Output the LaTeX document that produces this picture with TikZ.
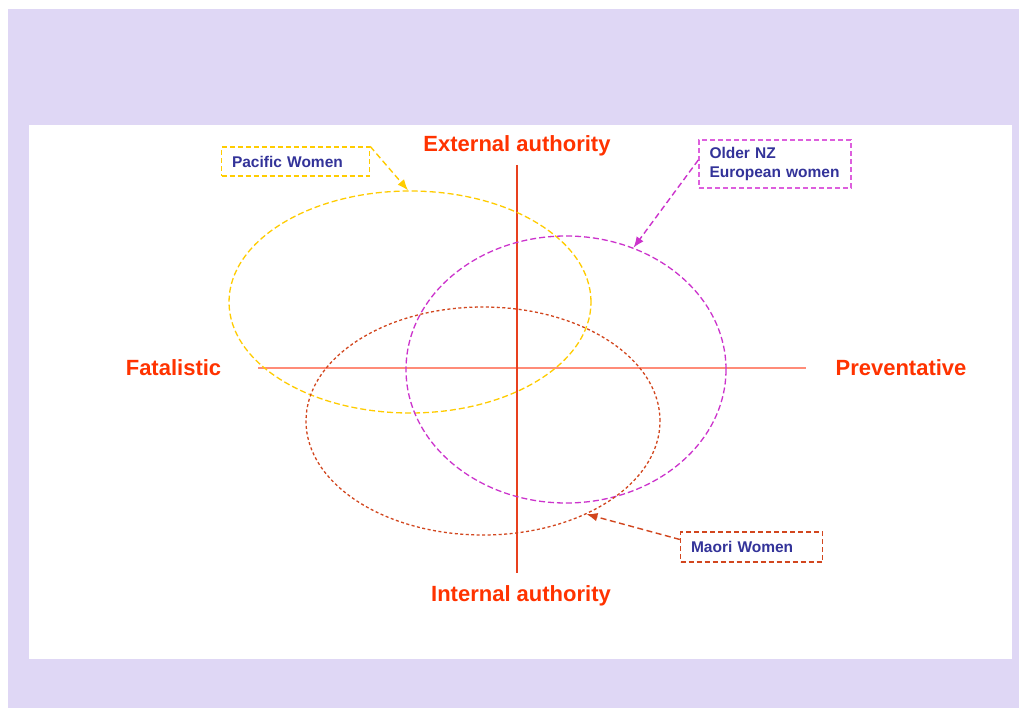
\documentclass[tikz,border=0pt]{standalone}
\usepackage{fontspec}
\setmainfont{Liberation Sans}
\usetikzlibrary{arrows.meta,shapes.geometric}

\definecolor{lavender}{HTML}{DFD7F5}
\definecolor{labelred}{HTML}{FF3300}
\definecolor{tagblue}{HTML}{333399}
\definecolor{haxis}{HTML}{FF8C78}
\definecolor{vaxis}{HTML}{E8401E}
\definecolor{pacyellow}{HTML}{FFCC00}
\definecolor{eurmagenta}{HTML}{CC33CC}
\definecolor{eurbox}{HTML}{DD5FDD}
\definecolor{maorired}{HTML}{D2461E}

\tikzset{
  axislabel/.style={text=labelred, font=\fontsize{22}{26}\selectfont\bfseries, inner sep=0pt},
  tagbox/.style={text=tagblue, font=\fontsize{15.5}{18.5}\selectfont\bfseries,
    align=left, inner xsep=10.5pt, inner ysep=0pt, line width=1.4pt,
    dash pattern=on 5pt off 3pt},
  group/.style={ellipse, inner sep=0pt, line width=1.3pt},
  pointer/.style={line width=1.4pt, dash pattern=on 6pt off 3.5pt,
    -{Latex[length=11pt,width=8.5pt]}},
}

\begin{document}
\begin{tikzpicture}[x=1pt,y=-1pt]
  \useasboundingbox (0,0) rectangle (1019,708);
  % page frame
  \fill[lavender] (8,9) rectangle (1019,708);
  \fill[white] (29,125) rectangle (1012,659);

  % axes
  \coordinate (vtop) at (517,165);
  \coordinate (vbot) at (517,573);
  \coordinate (hleft) at (258,368);
  \coordinate (hright) at (806,368);
  \draw[haxis, line width=2.2pt] (hleft) -- (hright);
  \draw[vaxis, line width=1.1pt] (vtop) -- (vbot);

  % axis labels
  \node[axislabel, anchor=base] (ext) at (517,152) {External authority};
  \node[axislabel, anchor=base] (int) at (521,601) {Internal authority};
  \node[axislabel, anchor=base] (fat) at (173.5,375.5) {Fatalistic};
  \node[axislabel, anchor=base] (prev) at (901,375.5) {Preventative};

  % groups
  \node[group, draw=pacyellow, dash pattern=on 6pt off 3pt,
        minimum width=362pt, minimum height=222pt] (pacific) at (410,302) {};
  \node[group, draw=eurmagenta, dash pattern=on 6pt off 3pt,
        minimum width=320pt, minimum height=267pt] (european) at (566,369.5) {};
  \node[group, draw=maorired, dash pattern=on 3pt off 2.5pt,
        minimum width=354pt, minimum height=228pt] (maori) at (483,421) {};

  % tags
  \node[tagbox, draw=pacyellow, text width=127pt, minimum height=29pt]
    (pacTag) at (295.5,161.6) {Pacific Women};
  \node[tagbox, draw=eurbox, text width=131pt, minimum height=48pt]
    (eurTag) at (775,164) {Older NZ\\European women};
  \node[tagbox, draw=maorired, text width=121pt, minimum height=30pt]
    (maoriTag) at (751.5,547) {Maori Women};

  % pointers
  \draw[pointer, pacyellow] (pacTag.north east) -- (pacific.91);
  \draw[pointer, eurmagenta] (eurTag.177) -- (european.61);
  \draw[pointer, maorired] (maoriTag.174) -- (maori.-42);
\end{tikzpicture}
\end{document}
